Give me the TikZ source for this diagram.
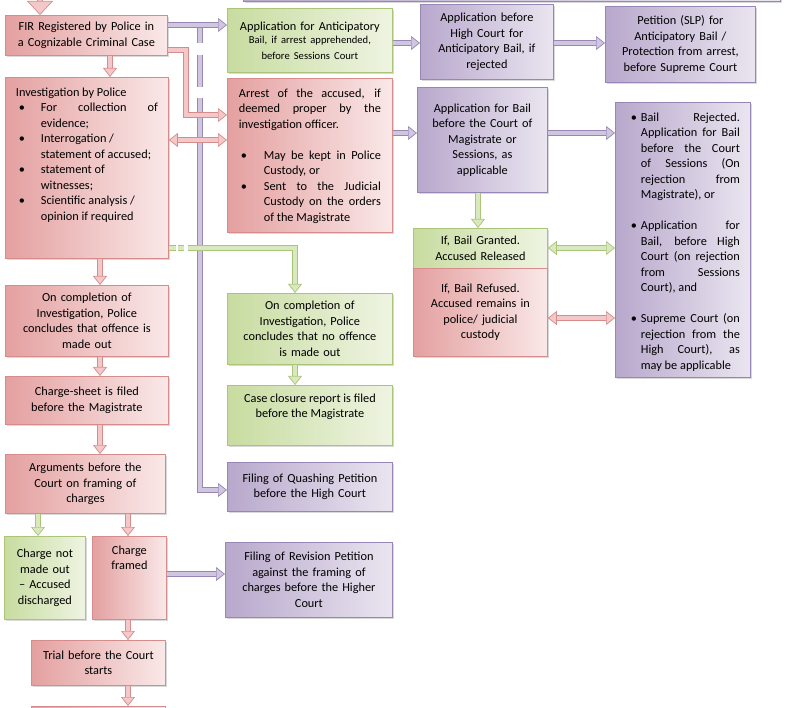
\documentclass[tikz,border=0pt]{standalone}
\usepackage{fontspec}
\setmainfont{Carlito}
\usetikzlibrary{arrows.meta,shadows}

\definecolor{pinkB}{RGB}{214,140,138}
\definecolor{pinkD}{RGB}{228,160,160}
\definecolor{pinkL}{RGB}{250,232,232}
\definecolor{pinkA}{RGB}{244,200,200}
\definecolor{greenB}{RGB}{170,196,120}
\definecolor{greenD}{RGB}{200,220,160}
\definecolor{greenL}{RGB}{238,244,226}
\definecolor{greenA}{RGB}{218,232,192}
\definecolor{purpB}{RGB}{152,134,182}
\definecolor{purpD}{RGB}{184,168,204}
\definecolor{purpL}{RGB}{234,229,240}
\definecolor{purpA}{RGB}{208,198,224}

% bullet list: #1 = indent of the text, #2 = indent of the bullet
\newenvironment{blist}[2]{\begin{list}{\textbullet}{%
  \setlength{\leftmargin}{#1}\setlength{\labelwidth}{#1}%
  \setlength{\labelsep}{0pt}\setlength{\itemsep}{0pt}%
  \setlength{\parsep}{0pt}\setlength{\topsep}{0pt}\setlength{\partopsep}{0pt}%
  \renewcommand{\makelabel}[1]{\hspace*{#2}##1\hfil}}}{\end{list}}

\tikzset{
  box/.style={anchor=north west, line width=0.8pt, align=center, inner sep=4pt,
    font=\fontsize{12.3}{15.5}\selectfont,
    drop shadow={shadow xshift=1.5pt, shadow yshift=-1.5pt, opacity=0.3}},
  pinkbox/.style={box, draw=pinkB, left color=pinkD, right color=pinkL},
  greenbox/.style={box, draw=greenB, left color=greenD, right color=greenL},
  purpbox/.style={box, draw=purpB, left color=purpD, right color=purpL},
  arr/.style={line width=0.7pt, double distance=4pt, ->},
  pinkarr/.style={arr, draw=pinkB, double=pinkA, >={Triangle[length=9pt, width=14pt, fill=pinkA]}},
  greenarr/.style={arr, draw=greenB, double=greenA, >={Triangle[length=9pt, width=14pt, fill=greenA]}},
  purparr/.style={arr, draw=purpB, double=purpA, >={Triangle[length=9pt, width=14pt, fill=purpA]}}
}

\begin{document}
\begin{tikzpicture}[x=1pt, y=-1pt]
  \useasboundingbox (0,0) rectangle (803,708);

  % boxes cut by the frame
  \node[purpbox, minimum width=537pt, minimum height=41.5pt] (prev) at (243,-40) {};
  \node[pinkbox, text width=126pt, minimum height=40pt] (next) at (31,706) {};

  % left column
  \node[pinkbox, text width=154pt, minimum height=40pt] (fir) at (5,15) {FIR Registered by Police in\\ a Cognizable Criminal Case};
  \node[pinkbox, inner xsep=10.5pt, inner ysep=0pt] (invest) at (5,77) {\parbox[c][181pt][t]{142pt}{\rule{0pt}{19pt}Investigation by Police
    \begin{blist}{25pt}{3pt}
      \item For collection of\linebreak evidence;
      \item Interrogation /\newline statement of accused;
      \item statement of\newline witnesses;
      \item Scientific analysis /\newline opinion if required
    \end{blist}}};
  \node[pinkbox, text width=155pt, minimum height=71pt] (offence) at (5,285) {On completion of\\ Investigation, Police\\ concludes that offence is\\ made out};
  \node[pinkbox, text width=155pt, minimum height=48pt] (sheet) at (5,376) {Charge-sheet is filed\\ before the Magistrate};
  \node[pinkbox, text width=152pt, minimum height=59pt] (args) at (5,454) {Arguments before the\\ Court on framing of\\ charges};
  \node[greenbox, text width=73pt, minimum height=83pt] (notmade) at (4,536) {Charge not\\ made out\\ – Accused\\ discharged};
  \node[pinkbox, inner xsep=4pt, inner ysep=0pt] (framed) at (92,536) {\parbox[c][83pt][t]{66pt}{\centering\rule{0pt}{18pt}Charge\\ framed}};
  \node[pinkbox, text width=126pt, minimum height=45pt] (trial) at (31,640) {Trial before the Court\\ starts};

  % middle column
  \node[greenbox, text width=157pt, minimum height=64pt] (antic) at (227,8) {Application for Anticipatory\\ \fontsize{10.6}{13.5}\selectfont Bail, if arrest apprehended,\\ before Sessions Court};
  \node[pinkbox, inner xsep=11.5pt, inner ysep=0pt] (arrest) at (227,78) {\parbox[c][154pt][t]{142pt}{\rule{0pt}{19pt}Arrest of the accused, if\linebreak deemed proper by the\linebreak investigation officer.\par\vspace{15.5pt}
    \begin{blist}{25pt}{2pt}
      \item May be kept in Police\linebreak Custody, or
      \item Sent to the Judicial\linebreak Custody on the orders\linebreak of the Magistrate
    \end{blist}}};
  \node[greenbox, text width=157pt, minimum height=71pt] (nooff) at (227,293) {On completion of\\ Investigation, Police\\ concludes that no offence\\ is made out};
  \node[greenbox, inner xsep=4pt, inner ysep=0pt] (closure) at (227,385) {\parbox[c][60pt][t]{157pt}{\centering\rule{0pt}{17pt}Case closure report is filed\\ before the Magistrate}};
  \node[purpbox, text width=157pt, minimum height=49pt] (quash) at (227,462) {Filing of Quashing Petition\\ before the High Court};
  \node[purpbox, text width=159pt, minimum height=75pt] (revision) at (225,542) {Filing of Revision Petition\\ against the framing of\\ charges before the Higher\\ Court};

  % right columns
  \node[purpbox, text width=125pt, minimum height=75pt] (hcourt) at (420,4) {Application before\\ High Court for\\ Anticipatory Bail, if\\ rejected};
  \node[purpbox, text width=142pt, minimum height=76pt] (slp) at (605,6) {Petition (SLP) for\\ Anticipatory Bail /\\ Protection from arrest,\\ before Supreme Court};
  \node[purpbox, text width=122pt, minimum height=105pt] (bail) at (417,87) {Application for Bail\\ before the Court of\\ Magistrate or\\ Sessions, as\\ applicable};
  \node[greenbox, text width=126pt, minimum height=40pt] (granted) at (413,228) {If, Bail Granted.\\ Accused Released};
  \node[pinkbox, text width=126pt, minimum height=88pt] (refused) at (413,268) {If, Bail Refused.\\ Accused remains in\\ police/ judicial\\ custody};
  \node[purpbox, inner xsep=10.5pt, inner ysep=0pt] (reject) at (615,102) {\parbox[c][275pt][t]{114pt}{\begin{blist}{15pt}{5pt}\setlength{\itemsep}{15.5pt}
      \item\rule{0pt}{19pt}Bail Rejected.\linebreak Application for Bail\linebreak before the Court\linebreak of Sessions (On\linebreak rejection from\linebreak Magistrate), or
      \item Application for\linebreak Bail, before High\linebreak Court (on rejection\linebreak from Sessions\linebreak Court), and
      \item Supreme Court (on\linebreak rejection from the\linebreak High Court), as\linebreak may be applicable
    \end{blist}}};

  % rows and lanes of the arrows
  \coordinate (top) at (40,-5);
  \coordinate (split) at (200,28);
  \coordinate (bend) at (186,50);
  \coordinate (rowfir) at (0,25);
  \coordinate (rowhc) at (0,43);
  \coordinate (rowarr) at (0,115);
  \coordinate (rowbail) at (0,133);
  \coordinate (rowinv) at (0,140);
  \coordinate (rowgrn) at (0,248);
  \coordinate (rowref) at (0,318);
  \coordinate (rowquash) at (0,490);
  \coordinate (rowrev) at (0,574);
  \coordinate (lanefir) at (110,0);
  \coordinate (laneinv) at (100,0);
  \coordinate (lanechg) at (128,0);
  \coordinate (lanenot) at (38,0);
  \coordinate (lanenooff) at (295,0);
  \coordinate (lanebail) at (478,0);

  \draw[purparr, dash pattern=on 15pt off 12pt on 32pt off 11pt on 900pt off 1pt] (split) |- (quash.west |- rowquash);
  \draw[pinkarr, >={Triangle[length=14pt, width=26pt, fill=pinkA]}] (top) -- (fir.north -| top);
  \draw[purparr] (fir.east |- rowfir) -- (antic.west |- rowfir);
  \draw[purparr] (antic.east |- rowhc) -- (hcourt.west |- rowhc);
  \draw[purparr] (hcourt.east |- rowhc) -- (slp.west |- rowhc);
  \draw[pinkarr] (fir.east |- bend) -- (bend) |- (arrest.west |- rowarr);
  \draw[pinkarr, <->] (invest.east |- rowinv) -- (arrest.west |- rowinv);
  \draw[purparr] (arrest.east |- rowbail) -- (bail.west |- rowbail);
  \draw[purparr] (bail.east |- rowbail) -- (reject.west |- rowbail);
  \draw[greenarr] (bail.south -| lanebail) -- (granted.north -| lanebail);
  \draw[greenarr, <->] (granted.east |- rowgrn) -- (reject.west |- rowgrn);
  \draw[pinkarr, <->] (refused.east |- rowref) -- (reject.west |- rowref);
  \draw[greenarr, dash pattern=on 7pt off 2pt on 6pt off 4pt on 900pt off 1pt] (invest.east |- rowgrn) -| (lanenooff |- nooff.north);
  \draw[greenarr] (nooff.south -| lanenooff) -- (closure.north -| lanenooff);
  \draw[pinkarr] (fir.south -| lanefir) -- (invest.north -| lanefir);
  \draw[pinkarr] (invest.south -| laneinv) -- (offence.north -| laneinv);
  \draw[pinkarr] (offence.south -| laneinv) -- (sheet.north -| laneinv);
  \draw[pinkarr] (sheet.south -| laneinv) -- (args.north -| laneinv);
  \draw[greenarr] (args.south -| lanenot) -- (notmade.north -| lanenot);
  \draw[pinkarr] (args.south -| lanechg) -- (framed.north -| lanechg);
  \draw[purparr] (framed.east |- rowrev) -- (revision.west |- rowrev);
  \draw[pinkarr] (framed.south -| lanechg) -- (trial.north -| lanechg);
  \draw[pinkarr] (trial.south -| lanechg) -- (next.north -| lanechg);
\end{tikzpicture}
\end{document}
